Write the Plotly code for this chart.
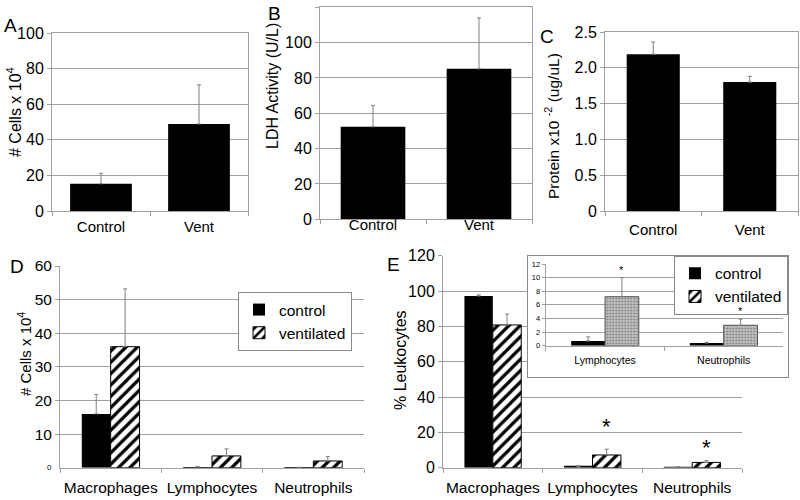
import plotly.graph_objects as go

# ---------------- data ----------------
groups_ab = ["Control", "Vent"]
a_cells = [15.3, 48.9]
a_cells_sd = [5.9, 22.0]
b_ldh = [52.4, 85.2]
b_ldh_sd = [12.1, 28.8]
c_protein = [2.19, 1.80]
c_protein_sd = [0.17, 0.08]
c_tickvals = [0, 0.5, 1.0, 1.5, 2.0, 2.5]
c_ticktext = ["0", "0.5", "1.0", "1.5", "2.0", "2.5"]

cell_types = ["Macrophages", "Lymphocytes", "Neutrophils"]
d_control = [16.0, 0.2, 0.1]
d_control_sd = [5.8, 0.1, 0.0]
d_vent = [36.0, 3.5, 2.0]
d_vent_sd = [17.2, 2.1, 1.3]

e_control = [97.2, 0.7, 0.4]
e_control_sd = [0.6, 0.5, 0.1]
e_vent = [80.8, 7.2, 3.0]
e_vent_sd = [6.2, 3.3, 1.0]
e_sig_y = [None, 23.5, 11.7]

inset_types = ["Lymphocytes", "Neutrophils"]
inset_control = [0.7, 0.4]
inset_control_sd = [0.6, 0.1]
inset_vent = [7.2, 3.0]
inset_vent_sd = [2.8, 0.9]
inset_sig_y = [11.1, 5.1]

# ---------------- helpers ----------------
W, H = 800, 500
FONT = "Liberation Sans, Arial, sans-serif"
GRID = "#a0a0a0"
BARGAP = 0.43


def px(v):
    return v / W


def py(v):
    return 1 - v / H


def err(vals):
    return dict(type="data", array=vals, arrayminus=[0] * len(vals), symmetric=False,
                color="#808080", thickness=1, width=2)


hatch = dict(shape="/", fgcolor="black", bgcolor="white", size=8, solidity=0.4)
dots = dict(shape=".", fgcolor="#7a7a7a", bgcolor="#c4c4c4", size=3, solidity=0.3)

fig = go.Figure()

# A
fig.add_trace(go.Bar(x=groups_ab, y=a_cells, width=[0.63] * 2, marker=dict(color="black"),
                     error_y=err(a_cells_sd), xaxis="x", yaxis="y", showlegend=False))
# B
fig.add_trace(go.Bar(x=groups_ab, y=b_ldh, width=[0.61] * 2, marker=dict(color="black"),
                     error_y=err(b_ldh_sd), xaxis="x2", yaxis="y2", showlegend=False))
# C
fig.add_trace(go.Bar(x=groups_ab, y=c_protein, width=[0.55] * 2, marker=dict(color="black"),
                     error_y=err(c_protein_sd), xaxis="x3", yaxis="y3", showlegend=False))
# D
fig.add_trace(go.Bar(x=cell_types, y=d_control, name="control", marker=dict(color="black"),
                     error_y=err(d_control_sd), xaxis="x4", yaxis="y4", legend="legend"))
fig.add_trace(go.Bar(x=cell_types, y=d_vent, name="ventilated",
                     marker=dict(color="white", pattern=hatch, line=dict(color="black", width=1)),
                     error_y=err(d_vent_sd), xaxis="x4", yaxis="y4", legend="legend"))
# E
fig.add_trace(go.Bar(x=cell_types, y=e_control, name="control", marker=dict(color="black"),
                     error_y=err(e_control_sd), xaxis="x5", yaxis="y5", legend="legend2"))
fig.add_trace(go.Bar(x=cell_types, y=e_vent, name="ventilated",
                     marker=dict(color="white", pattern=hatch, line=dict(color="black", width=1)),
                     error_y=err(e_vent_sd), xaxis="x5", yaxis="y5", legend="legend2"))
# inset background box
fig.add_trace(go.Scatter(x=[None], y=[None], xaxis="x6", yaxis="y6", showlegend=False,
                         hoverinfo="skip"))
# inset
fig.add_trace(go.Bar(x=inset_types, y=inset_control, marker=dict(color="black"),
                     error_y=err(inset_control_sd), xaxis="x7", yaxis="y7", showlegend=False))
fig.add_trace(go.Bar(x=inset_types, y=inset_vent,
                     marker=dict(color="#c4c4c4", pattern=dots, line=dict(color="#555", width=1)),
                     error_y=err(inset_vent_sd), xaxis="x7", yaxis="y7", showlegend=False))


def yax(domain, rng, anchor, mirror=False, size=16, **kw):
    d = dict(domain=domain, range=rng, anchor=anchor, showgrid=True, gridcolor=GRID,
             gridwidth=1, showline=True, linecolor=GRID, mirror=mirror, ticks="outside",
             ticklen=4, tickcolor=GRID, zeroline=False,
             tickfont=dict(size=size, color="black", family=FONT), fixedrange=True)
    d.update(kw)
    return d


def xax(domain, anchor, mirror=False, size=15, **kw):
    d = dict(domain=domain, anchor=anchor, type="category", showgrid=False, showline=True,
             linecolor=GRID, mirror=mirror, ticks="outside", tickson="boundaries",
             ticklen=4, tickcolor=GRID, zeroline=False, tickangle=0,
             tickfont=dict(size=size, color="black", family=FONT), fixedrange=True)
    d.update(kw)
    return d


layout = dict(
    width=W, height=H, template="none",
    margin=dict(l=0, r=0, t=0, b=0),
    paper_bgcolor="white", plot_bgcolor="white",
    barmode="group", bargap=BARGAP, bargroupgap=0,
    font=dict(family=FONT, color="black"),
    xaxis=xax([px(52), px(248)], "y", mirror=True, ticklabelstandoff=2),
    yaxis=yax([py(211), py(33)], [0, 100], "x", mirror=True, dtick=20),
    xaxis2=xax([px(320), px(532)], "y2", mirror=True, ticklabelstandoff=-8),
    yaxis2=yax([py(219.3), py(7.3)], [0, 120], "x2", mirror=True, dtick=20),
    xaxis3=xax([px(605), px(798)], "y3", mirror=True, ticklabelstandoff=5),
    yaxis3=yax([py(211), py(32)], [0, 2.5], "x3", mirror=True,
               tickvals=c_tickvals, ticktext=c_ticktext),
    xaxis4=xax([px(60), px(364)], "y4", size=15.5, ticklabelstandoff=6),
    yaxis4=yax([py(467.7), py(266)], [0, 60], "x4", size=15.5, tickvals=[10, 20, 30, 40, 50, 60]),
    xaxis5=xax([px(443), px(742)], "y5", size=15.5, ticklabelstandoff=6),
    yaxis5=yax([py(467.7), py(255.7)], [0, 120], "x5", dtick=20),
    xaxis6=dict(domain=[px(528), px(788)], anchor="y6", range=[0, 1], showgrid=False,
                showticklabels=False, showline=True, mirror=True, linecolor="#888",
                zeroline=False, ticks="", fixedrange=True),
    yaxis6=dict(domain=[py(376.7), py(255.7)], anchor="x6", range=[0, 1], showgrid=False,
                showticklabels=False, showline=True, mirror=True, linecolor="#888",
                zeroline=False, ticks="", fixedrange=True),
    xaxis7=xax([px(545.7), px(783)], "y7", size=10.5, ticklabelstandoff=5),
    yaxis7=yax([py(345.7), py(264)], [0, 12], "x7", size=7.5, dtick=2, ticklen=3),
    legend=dict(x=px(238), y=py(292), xanchor="left", yanchor="top", bordercolor="#888",
                borderwidth=1, bgcolor="white", font=dict(size=15.5, family=FONT),
                traceorder="normal", itemwidth=30),
    legend2=dict(x=px(788), y=py(255.7), xanchor="right", yanchor="top", bordercolor="#888",
                 borderwidth=1, bgcolor="white", font=dict(size=15.5, family=FONT),
                 traceorder="normal", itemwidth=30),
)

ann = []
# panel letters
for letter, lx, ly in [("A", 2, 25), ("B", 266, 13), ("C", 538, 37), ("D", 8, 266), ("E", 385, 264)]:
    ann.append(dict(text=letter, x=px(lx), y=py(ly), xref="paper", yref="paper",
                    xanchor="left", yanchor="middle", showarrow=False,
                    font=dict(size=19, family=FONT, color="black")))
# axis titles
for txt, tx, ty, sz in [("# Cells x 10<sup>4</sup>", 14, 112, 16),
                        ("LDH Activity (U/L)", 273, 86, 16),
                        ("Protein x10 <sup>-2</sup> (ug/uL)", 552, 126, 15.5),
                        ("# Cells x 10<sup>4</sup>", 24, 354, 15),
                        ("% Leukocytes", 400, 360, 16)]:
    ann.append(dict(text=txt, x=px(tx), y=py(ty), xref="paper", yref="paper",
                    textangle=-90, showarrow=False, xanchor="center", yanchor="middle",
                    font=dict(size=sz, family=FONT, color="black")))
# small zero label on D
ann.append(dict(text="0", x=px(54), y=py(467.7), xref="paper", yref="paper", xanchor="right",
                yanchor="middle", showarrow=False, font=dict(size=8, family=FONT, color="black")))
# significance stars
off = (1 - BARGAP) / 4
for i, sy in enumerate(e_sig_y):
    if sy is not None:
        ann.append(dict(text="*", x=i + off, y=sy, xref="x5", yref="y5", showarrow=False,
                        font=dict(size=22, family=FONT, color="black")))
for i, sy in enumerate(inset_sig_y):
    ann.append(dict(text="*", x=i + off, y=sy, xref="x7", yref="y7", showarrow=False,
                    font=dict(size=11, family=FONT, color="black")))

layout["annotations"] = ann
fig.update_layout(**layout)
fig.write_html("out.html", config={"displayModeBar": False},
               post_script="document.body.style.margin='0';document.body.style.overflow='hidden';")
